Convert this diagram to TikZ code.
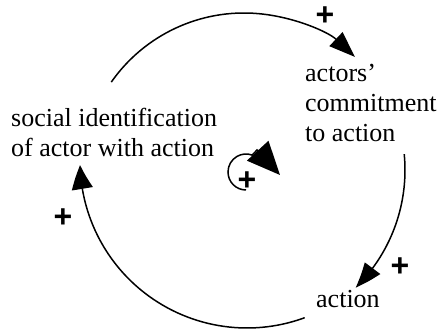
\documentclass[tikz,border=0pt]{standalone}
\usepackage{fontspec}
\setmainfont{Liberation Serif}
\newfontfamily\plusfont{Liberation Sans}
\usetikzlibrary{arrows.meta,bending}

\tikzset{
  label/.style={font=\fontsize{26}{30}\selectfont, inner sep=0pt, align=left, anchor=base west},
  sign/.style={font=\plusfont\bfseries\fontsize{32}{32}\selectfont, inner sep=0pt},
  link/.style={line width=1.5pt},
  head/.style={-{Triangle[length=26pt,width=19pt,#1]}},
}

\begin{document}
\begin{tikzpicture}[x=1pt,y=1pt]
  \useasboundingbox (0,0) rectangle (442,329);

  % variables (anchored on the baseline of their last line)
  \node[label] (ident) at (11,172) {social identification\\of actor with action};
  \node[label] (commit) at (305,187) {actors'\\commitment\\to action};
  \node[label] (act) at (316,21) {action};

  % centres of the causal arcs
  \coordinate (c1) at (244,154);
  \coordinate (c2) at (240,159);
  \coordinate (c3) at (247,168);
  \coordinate (c4) at (246,157);

  % arc start points
  \path (c1) ++(145:162pt) coordinate (s1);
  \path (c2) ++(5.5:165pt) coordinate (s2);
  \path (c3) ++(-69.8:167pt) coordinate (s3);
  \path (c4) ++(270:18pt) coordinate (s4);
  \coordinate (b4) at (257,179);
  \coordinate (t4) at (280,154);

  % identification -> commitment
  \draw[link, head={quick}] (s1) arc[start angle=145, end angle=46.8, radius=162pt];
  % commitment -> action
  \draw[link, head={bend}] (s2) arc[start angle=5.5, end angle=-45.5, radius=165pt];
  % action -> identification
  \draw[link, -{Triangle[length=24pt,width=21pt,bend]}] (s3) arc[start angle=-69.8, end angle=-178.6, radius=167pt];
  % self-reinforcing loop
  \draw[link, -{Triangle[length=33pt,width=29pt,quick]}] (s4) arc[start angle=270, end angle=70, radius=18pt] -- (b4) -- (t4);

  % polarities
  \node[sign] (p1) at (325,313) {+};
  \node[sign] (p2) at (400,62) {+};
  \node[sign] (p3) at (63,111) {+};
  \node[sign] (p4) at (247,148) {+};
\end{tikzpicture}
\end{document}
